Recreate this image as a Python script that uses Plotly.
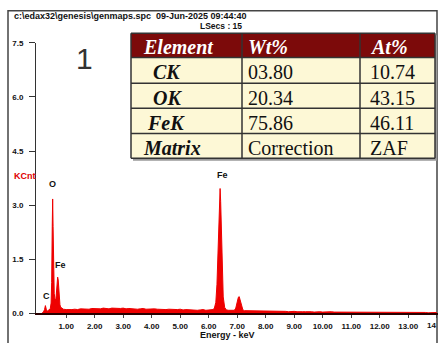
import plotly.graph_objects as go

W, H = 438, 343

# ---------------- data ----------------
energy_kev = [
    0.15, 0.20, 0.24, 0.27, 0.30, 0.33, 0.36, 0.40, 0.44, 0.47, 0.49, 0.51, 0.525, 0.54,
    0.56, 0.58, 0.60, 0.62, 0.64, 0.66, 0.68, 0.70, 0.72, 0.74, 0.76, 0.78, 0.80, 0.85,
    0.9, 1.0, 1.1, 1.2, 1.3, 1.4, 1.5, 1.6, 1.7, 1.8, 1.9, 2.0,
    2.1, 2.2, 2.3, 2.4, 2.5, 2.6, 2.7, 2.8, 2.9, 3.0, 3.1, 3.2, 3.3, 3.4, 3.5, 3.6, 3.7, 3.8, 3.9, 4.0,
    4.1, 4.2, 4.3, 4.4, 4.5, 4.6, 4.7, 4.8, 4.9, 5.0, 5.1, 5.2, 5.3, 5.4, 5.5, 5.6, 5.7, 5.8, 5.9, 6.0, 6.1,
    6.15, 6.20, 6.25, 6.29, 6.33, 6.36, 6.38, 6.40, 6.42, 6.44, 6.47, 6.51, 6.56, 6.62,
    6.7, 6.8, 6.9,
    6.95, 7.00, 7.04, 7.07, 7.10, 7.15, 7.20, 7.25,
    7.3, 7.4, 7.5, 7.6, 7.7, 7.8, 7.9, 8.0, 8.1, 8.2, 8.3, 8.4, 8.5, 8.6, 8.7, 8.8, 8.9, 9.0,
    9.1, 9.2, 9.3, 9.4, 9.5, 9.6, 9.7, 9.8, 9.9, 10.0,
    10.1, 10.2, 10.3, 10.4, 10.5, 10.6, 10.7, 10.8, 10.9, 11.0,
    11.1, 11.2, 11.3, 11.4, 11.5, 11.6, 11.7, 11.8, 11.9, 12.0,
    12.1, 12.2, 12.3, 12.4, 12.5, 12.6, 12.7, 12.8, 12.9, 13.0,
    13.1, 13.2, 13.3, 13.4, 13.5, 13.6, 13.7, 13.8, 13.9, 14.0,
]
counts_kcnt = [
    0.00, 0.03, 0.10, 0.21, 0.11, 0.05, 0.07, 0.09, 0.12, 0.28, 0.85, 2.40, 3.17, 2.40,
    1.10, 0.55, 0.42, 0.36, 0.40, 0.55, 0.85, 1.00, 0.92, 0.58, 0.34, 0.24, 0.17, 0.13,
    0.11, 0.10, 0.09, 0.10, 0.11, 0.10, 0.12, 0.11, 0.12, 0.11, 0.13, 0.12,
    0.13, 0.12, 0.14, 0.13, 0.12, 0.14, 0.13, 0.12, 0.13, 0.14, 0.12, 0.13, 0.12, 0.13, 0.11, 0.12, 0.13, 0.11, 0.12, 0.11,
    0.12, 0.11, 0.10, 0.11, 0.10, 0.11, 0.10, 0.09, 0.10, 0.11, 0.09, 0.10, 0.09, 0.10, 0.09, 0.08, 0.09, 0.10, 0.08, 0.09, 0.10,
    0.10, 0.14, 0.30, 0.80, 1.90, 2.80, 3.25, 3.46, 3.10, 2.30, 1.20, 0.45, 0.16, 0.09,
    0.08, 0.07, 0.08,
    0.14, 0.32, 0.44, 0.46, 0.36, 0.18, 0.09, 0.07,
    0.07, 0.06, 0.07, 0.06, 0.06, 0.07, 0.05, 0.06, 0.06, 0.05, 0.06, 0.05, 0.05, 0.06, 0.05, 0.04, 0.05, 0.05,
    0.04, 0.05, 0.04, 0.04, 0.05, 0.04, 0.03, 0.04, 0.04, 0.03,
    0.04, 0.03, 0.04, 0.03, 0.03, 0.04, 0.03, 0.03, 0.04, 0.03,
    0.03, 0.03, 0.02, 0.03, 0.03, 0.02, 0.03, 0.03, 0.02, 0.03,
    0.02, 0.03, 0.02, 0.02, 0.03, 0.02, 0.02, 0.03, 0.02, 0.02,
    0.02, 0.02, 0.03, 0.02, 0.02, 0.02, 0.01, 0.02, 0.02, 0.02,
]
assert len(energy_kev) == len(counts_kcnt)

x_tick_vals = [1, 2, 3, 4, 5, 6, 7, 8, 9, 10, 11, 12, 13, 14]
x_tick_text = ["1.00", "2.00", "3.00", "4.00", "5.00", "6.00", "7.00",
               "8.00", "9.00", "10.00", "11.00", "12.00", "13.00", ""]
x_edge_label = "14"          # last label, cut by the right edge in the original
y_tick_vals = [0.0, 1.5, 3.0, 4.5, 6.0, 7.5]
y_tick_text = ["0.0", "1.5", "3.0", "4.5", "6.0", "7.5"]

peak_labels = ["C", "O", "Fe", "Fe"]
peak_label_kev = [0.32, 0.53, 0.80, 6.47]
peak_label_kcnt = [0.47, 3.59, 1.34, 3.84]

table_header = ["Element", "Wt%", "At%"]
table_elements = ["CK", "OK", "FeK", "Matrix"]
table_wt = ["03.80", "20.34", "75.86", "Correction"]
table_at = ["10.74", "43.15", "46.11", "ZAF"]
element_indent = [2, 2, 1, 0]

header_line = "c:\\edax32\\genesis\\genmaps.spc  09-Jun-2025 09:44:40"
lsecs_line = "LSecs : 15"
panel_label = "1"

# ---------------- helpers (pixel -> paper) ----------------
def px(x):
    return x / W

def py(y):
    return 1 - y / H

RED = "#ee0000"

fig = go.Figure()
fig.add_trace(go.Scatter(
    x=energy_kev, y=counts_kcnt, mode="lines",
    line=dict(color=RED, width=1), fill="tozeroy", fillcolor=RED,
    hoverinfo="skip", showlegend=False,
))

shapes = []
annotations = []

# outer frame
shapes.append(dict(type="rect", xref="paper", yref="paper",
                   x0=px(8), x1=px(437), y0=py(360), y1=py(7),
                   line=dict(color="#444", width=1.5), fillcolor="rgba(0,0,0,0)", layer="below"))

# header text
annotations.append(dict(text="<b>" + header_line + "</b>", xref="paper", yref="paper",
                        x=px(12), y=py(12), xanchor="left", yanchor="middle", showarrow=False,
                        font=dict(family="Arial", size=9, color="#111")))
annotations.append(dict(text="<b>" + lsecs_line + "</b>", xref="paper", yref="paper",
                        x=px(221), y=py(23), xanchor="center", yanchor="middle", showarrow=False,
                        font=dict(family="Arial", size=8.5, color="#111")))
annotations.append(dict(text=panel_label, xref="paper", yref="paper",
                        x=px(84.5), y=py(56), xanchor="center", yanchor="middle", showarrow=False,
                        font=dict(family="Arial", size=30, color="#333")))
annotations.append(dict(text="<b>KCnt</b>", xref="paper", yref="paper",
                        x=px(24.5), y=py(177), xanchor="center", yanchor="middle", showarrow=False,
                        font=dict(family="Arial", size=9, color="#e00000")))
annotations.append(dict(text="<b>Energy - keV</b>", xref="paper", yref="paper",
                        x=px(227), y=py(340), xanchor="center", yanchor="middle", showarrow=False,
                        font=dict(family="Arial", size=9, color="#111")))
annotations.append(dict(text="<b>" + x_edge_label + "</b>", xref="paper", yref="paper",
                        x=1, y=py(330.5), xanchor="right", yanchor="middle", showarrow=False,
                        font=dict(family="Arial", size=8, color="#111")))

# peak labels
for lab, ex, ey in zip(peak_labels, peak_label_kev, peak_label_kcnt):
    annotations.append(dict(text="<b>" + lab + "</b>", x=ex, y=ey, xref="x", yref="y",
                            xanchor="center", yanchor="middle", showarrow=False,
                            font=dict(family="Arial", size=9, color="#111")))

# ---------------- table ----------------
T_L, T_R = 131, 435
col_edges = [131, 242, 360, 435]
row_edges = [30, 55, 81.5, 107, 133, 158.5]
BORDER = "#333"

# shadow
shapes.append(dict(type="rect", xref="paper", yref="paper",
                   x0=px(T_L + 2), x1=px(T_R + 2), y0=py(row_edges[-1] + 2.5), y1=py(row_edges[0] + 2),
                   line=dict(width=0), fillcolor="#9a9a9a"))
# header background
shapes.append(dict(type="rect", xref="paper", yref="paper",
                   x0=px(T_L), x1=px(T_R), y0=py(row_edges[1]), y1=py(row_edges[0]),
                   line=dict(width=0), fillcolor="#7c0a0a"))
# body background
shapes.append(dict(type="rect", xref="paper", yref="paper",
                   x0=px(T_L), x1=px(T_R), y0=py(row_edges[-1]), y1=py(row_edges[1]),
                   line=dict(width=0), fillcolor="#fdf8d6"))
# grid lines
for yy in row_edges:
    shapes.append(dict(type="line", xref="paper", yref="paper",
                       x0=px(T_L), x1=px(T_R), y0=py(yy), y1=py(yy),
                       line=dict(color=BORDER, width=1.5)))
for xx in col_edges:
    shapes.append(dict(type="line", xref="paper", yref="paper",
                       x0=px(xx), x1=px(xx), y0=py(row_edges[-1]), y1=py(row_edges[0]),
                       line=dict(color=BORDER, width=1.5)))

col_text_x = [141, 246, 368]
SERIF = "Liberation Serif, Times New Roman, serif"
for j, htxt in enumerate(table_header):
    annotations.append(dict(text="<b><i>" + htxt + "</i></b>", xref="paper", yref="paper",
                            x=px(col_text_x[j]), y=py((row_edges[0] + row_edges[1]) / 2 + 1.5),
                            xanchor="left", yanchor="middle", showarrow=False,
                            font=dict(family=SERIF, size=20, color="white")))
for i in range(len(table_elements)):
    yc = py((row_edges[i + 1] + row_edges[i + 2]) / 2 + 2)
    annotations.append(dict(text="\u00a0" * element_indent[i] + "<b><i>" + table_elements[i] + "</i></b>",
                            xref="paper", yref="paper", x=px(col_text_x[0]), y=yc,
                            xanchor="left", yanchor="middle", showarrow=False,
                            font=dict(family=SERIF, size=20, color="#111")))
    annotations.append(dict(text=table_wt[i], xref="paper", yref="paper", x=px(col_text_x[1]), y=yc,
                            xanchor="left", yanchor="middle", showarrow=False,
                            font=dict(family=SERIF, size=20, color="#111")))
    annotations.append(dict(text=table_at[i], xref="paper", yref="paper", x=px(col_text_x[2]), y=yc,
                            xanchor="left", yanchor="middle", showarrow=False,
                            font=dict(family=SERIF, size=20, color="#111")))

# ---------------- axes ----------------
x0_px, kev_px = 37.7, 28.5
y0_px, y75_px = 317.5, 40
fig.update_layout(
    width=W, height=H,
    margin=dict(l=0, r=0, t=0, b=0),
    paper_bgcolor="white", plot_bgcolor="white",
    xaxis=dict(domain=[px(36), 1], range=[-(x0_px - 36) / kev_px, (W - x0_px) / kev_px],
               showline=True, linecolor="#2a0000", linewidth=1.5, showgrid=False, zeroline=False,
               ticks="outside", ticklen=3, tickcolor="#444", tickwidth=1,
               tickvals=x_tick_vals, ticktext=["<b>" + t + "</b>" if t else "" for t in x_tick_text],
               tickfont=dict(family="Arial", size=8, color="#111"), ticklabelstandoff=1),
    yaxis=dict(domain=[py(y0_px), py(y75_px)], range=[0, 7.5],
               showline=True, linecolor="#333", linewidth=1, showgrid=False, zeroline=False,
               ticks="outside", ticklen=6, tickcolor="#333", tickwidth=1,
               tickvals=y_tick_vals, ticktext=["<b>" + t + "</b>" for t in y_tick_text],
               tickfont=dict(family="Arial", size=8, color="#111"), ticklabelstandoff=4),
    shapes=shapes, annotations=annotations,
)

fig.write_html("out.html")
